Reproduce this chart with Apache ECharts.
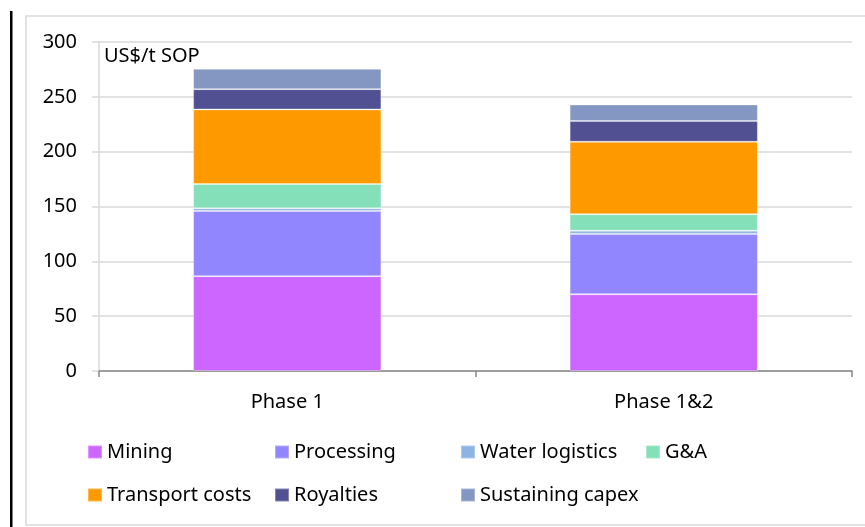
<!DOCTYPE html>
<html>
<head>
<meta charset="utf-8">
<script src="https://cdn.jsdelivr.net/npm/echarts@6/dist/echarts.min.js"></script>
<style>
html,body{margin:0;padding:0;background:#fff;}
#chart{width:865px;height:527px;}
</style>
</head>
<body>
<div id="chart"></div>
<script>
// Data
const categories = ['Phase 1', 'Phase 1&2'];
const seriesNames = ['Mining', 'Processing', 'Water logistics', 'G&A', 'Transport costs', 'Royalties', 'Sustaining capex'];
const mining = [86.5, 70];
const processing = [59.5, 55];
const waterLogistics = [2.5, 3];
const gAndA = [22, 15];
const transportCosts = [68, 66];
const royalties = [18.5, 19];
const sustainingCapex = [18.5, 15];
const yTicks = [0, 50, 100, 150, 200, 250, 300];
const unitLabel = 'US$/t SOP';

const values = [mining, processing, waterLogistics, gAndA, transportCosts, royalties, sustainingCapex];
const colors = ['#cc66ff', '#9286fe', '#8db4e2', '#84e0b8', '#ff9900', '#515092', '#8497c3'];

const FONT = '"Noto Sans", sans-serif';
const chart = echarts.init(document.getElementById('chart'), null, {renderer: 'canvas'});

const legendPos = [
  [87, 442], [274, 442], [460, 442], [645, 442],
  [87, 485], [274, 485], [460, 485]
];

const option = {
  animation: false,
  backgroundColor: '#ffffff',
  textStyle: {fontFamily: FONT},
  graphic: [
    {type: 'rect', shape: {x: 26, y: 16, width: 900, height: 509}, style: {fill: 'none', stroke: '#d9d9d9', lineWidth: 1.5}, z: -10},
    {type: 'rect', shape: {x: 10, y: 11, width: 2.5, height: 520}, style: {fill: '#000000'}, z: -5},
    {type: 'text', left: 104, top: 46, style: {text: unitLabel, font: '20px "Noto Sans", sans-serif', fill: '#000000'}, z: 10}
  ],
  grid: {left: 99, right: 13, top: 42, bottom: 156, containLabel: false},
  legend: seriesNames.map((n, i) => ({
    data: [n],
    left: legendPos[i][0],
    top: legendPos[i][1],
    padding: 0,
    icon: 'rect',
    itemWidth: 14,
    itemHeight: 13,
    selectedMode: false,
    textStyle: {fontSize: 20, color: '#000000', fontFamily: FONT}
  })),
  xAxis: {
    type: 'category',
    data: categories,
    boundaryGap: true,
    axisLine: {lineStyle: {color: '#868686', width: 1.5}},
    axisTick: {show: true, length: 6, lineStyle: {color: '#868686', width: 1.5}},
    axisLabel: {fontSize: 20, color: '#000000', margin: 21, fontFamily: FONT},
    splitLine: {show: false}
  },
  yAxis: {
    type: 'value',
    min: yTicks[0],
    max: yTicks[yTicks.length - 1],
    interval: yTicks[1] - yTicks[0],
    axisLine: {show: true, lineStyle: {color: '#d9d9d9', width: 1.5}},
    axisTick: {show: true, length: 7, lineStyle: {color: '#d9d9d9', width: 1.5}},
    axisLabel: {fontSize: 20, color: '#000000', margin: 22, fontFamily: FONT},
    splitLine: {show: true, lineStyle: {color: '#d9d9d9', width: 1.5}}
  },
  series: seriesNames.map((n, i) => ({
    name: n,
    type: 'bar',
    stack: 'total',
    barWidth: '50%',
    data: values[i],
    itemStyle: {color: colors[i], borderColor: 'rgba(255,255,255,0.3)', borderWidth: 1}
  }))
};
chart.setOption(option);
</script>
</body>
</html>
